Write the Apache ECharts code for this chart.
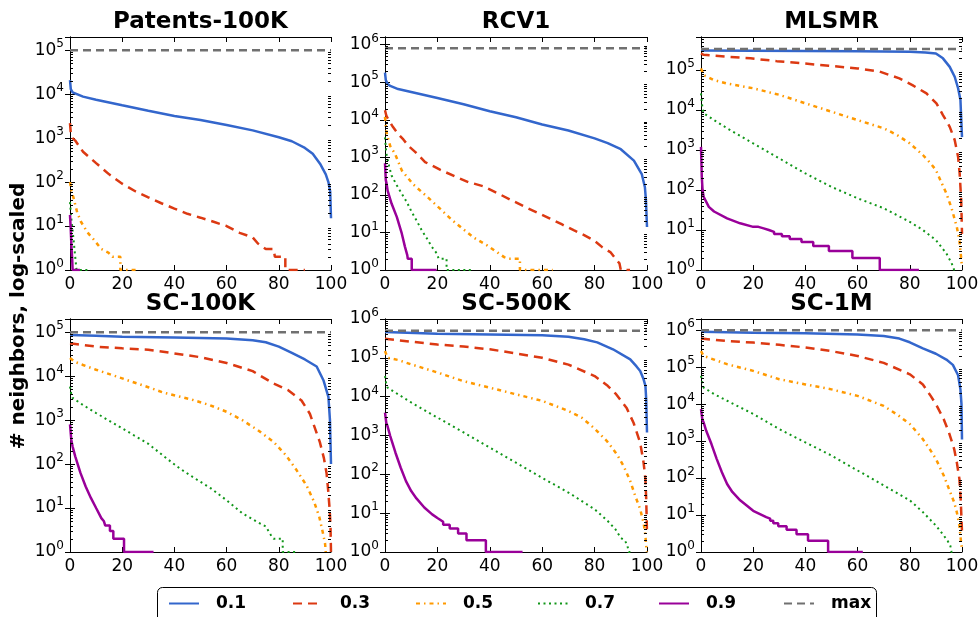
<!DOCTYPE html>
<html>
<head>
<meta charset="utf-8">
<script src="https://cdn.jsdelivr.net/npm/echarts@6/dist/echarts.min.js"></script>
<style>html,body{margin:0;padding:0;background:#fff}#c{width:979px;height:617px}</style>
</head>
<body>
<div id="c"></div>
<script>
// ---------------- DATA ----------------
const panelNames = ['Patents-100K', 'RCV1', 'MLSMR', 'SC-100K', 'SC-500K', 'SC-1M'];
const seriesNames = ['0.1', '0.3', '0.5', '0.7', '0.9', 'max'];
const xTicks = [0, 20, 40, 60, 80, 100];
const maxNeighbors = [1e5, 8.04e5, 3.35e5, 1e5, 5e5, 1e6];

// Patents-100K
const pat01 = [[0,2.1e4],[0.3,1.3e4],[1,1.1e4],[5,8.8e3],[10,7.5e3],[20,5.6e3],[30,4.2e3],[40,3.2e3],[50,2.6e3],[60,2e3],[70,1.5e3],[80,1.05e3],[85,850],[90,600],[93,440],[96,250],[98,150],[99,100],[99.7,60],[100,15]];
const pat03 = [[0,2.2e3],[0.3,1.3e3],[1,1e3],[2,880],[5,490],[10,270],[15,150],[20,92],[25,62],[30,45],[35,33],[40,25],[45,19],[50,15.5],[55,12.5],[60,10],[65,7],[70,5.5],[72,4],[75,3],[78,3],[78.5,2],[82.5,2],[82.5,1],[90,1]];
const pat05 = [[0,100],[0.5,65],[1.3,45],[2.8,20],[4.2,12.5],[5.7,9],[7,6.8],[9,5],[12,3],[14.7,2.5],[16.3,2],[19.3,2],[19.3,1],[25.5,1]];
const pat07 = [[0,35],[0.5,15],[1,8],[1.5,4],[2,2],[2.5,2],[2.5,1],[8,1]];
const pat09 = [[0,18],[0.3,8],[0.6,3],[0.8,2],[1,1],[3.8,1]];

// RCV1
const rcv01 = [[0,1.8e5],[0.3,1.15e5],[1,9e4],[2,8e4],[5,6.6e4],[10,5.5e4],[20,3.8e4],[30,2.6e4],[40,1.7e4],[50,1.17e4],[60,7.5e3],[70,5.2e3],[80,3.2e3],[85,2.4e3],[90,1.65e3],[95,820],[98,360],[99.2,160],[99.6,72],[100,14]];
const rcv03 = [[0,1.8e4],[0.5,1.3e4],[1,1.1e4],[3,6.5e3],[5,4.2e3],[7,3e3],[9,2e3],[11.5,1.4e3],[15.3,750],[21,470],[26.7,310],[31.8,220],[37.5,170],[43.3,108],[48.3,72],[53.4,48],[58.5,33],[63,23.5],[67.4,16.6],[72,11.5],[76,8.5],[80,6],[83,4],[86,3],[88,2],[89.5,1.5],[90,1],[93.5,1]];
const rcv05 = [[0,1.2e4],[0.5,5e3],[1,3.5e3],[2,2e3],[3.8,1.25e3],[6.4,450],[10.8,190],[15.9,92],[21,43],[25.4,22],[30,12],[34,7.2],[38.8,4.6],[43,2.9],[45.5,2.2],[47,2],[51.5,2],[51.5,1],[64,1]];
const rcv07 = [[0,3.4e3],[0.5,1.3e3],[1.3,680],[2.5,330],[4.5,180],[6.4,108],[8.3,65],[10.2,35],[12,21],[14,11.5],[16,6.9],[17.8,4.2],[19.7,2.8],[20.5,2],[23.5,2],[23.5,1],[34,1]];
const rcv09 = [[0,700],[0.3,250],[0.6,200],[1,130],[2.5,59],[4.5,26],[6.4,9.4],[7.6,4.2],[8.5,2.5],[8.7,2],[10.2,2],[10.2,1],[19.7,1]];

// MLSMR
const mls01 = [[0,3.1e5],[20,3.05e5],[40,3e5],[60,2.95e5],[80,2.85e5],[86,2.75e5],[90,2.6e5],[92.7,1.96e5],[95.3,1.2e5],[97.2,6.8e4],[98.5,3.5e4],[99.4,1.8e4],[100,2.1e3]];
const mls03 = [[0,2.6e5],[1,2.4e5],[10,2.15e5],[19,1.96e5],[29,1.67e5],[39,1.47e5],[49,1.28e5],[60,1.1e5],[68.5,9.1e4],[76,6.2e4],[81,4.2e4],[86.4,2.6e4],[90.2,1.47e4],[92.7,7.5e3],[95.3,3.8e3],[97.2,1.78e3],[98.5,680],[99.1,260],[99.7,56],[100,8]];
const mls05 = [[0,1.1e5],[1,7.5e4],[5,5.6e4],[10,4.6e4],[20,3.5e4],[30,2.4e4],[40,1.47e4],[50,9.1e3],[60,5.6e3],[70,3.5e3],[75,2.4e3],[80,1.47e3],[85,750],[88,460],[90,316],[92,160],[94,83],[96,35],[98,12],[99,5.6],[100,1.2]];
const mls07 = [[0,2.6e4],[0.5,1.2e4],[1,8.3e3],[5,5.6e3],[10,3.5e3],[20,1.47e3],[30,620],[40,260],[50,120],[60,62],[70,35],[80,16],[85,10],[90,5.6],[94,2.6],[96,1.5],[97,1],[97.5,1]];
const mls09 = [[0,1.2e3],[0.3,215],[0.6,100],[1,68],[3,38],[5,29],[10,19.5],[15,14.7],[20,12],[22,12],[22,11],[24,11],[24,10],[26,10],[26,9],[28,9],[28,8],[31,8],[31,7],[34,7],[34,6],[38.5,6],[38.5,5],[43,5],[43,4],[49,4],[49,3],[58,3],[58,2],[68.5,2],[68.5,1],[83.5,1]];

// SC-100K
const sc100k01 = [[0,8.7e4],[10,8.3e4],[20,7.9e4],[40,7.6e4],[60,7.2e4],[70,6.6e4],[75,5.9e4],[80,4.7e4],[85,3.4e4],[90,2.4e4],[94.5,1.66e4],[97.1,8.1e3],[99,3.4e3],[99.6,1e3],[100,100]];
const sc100k03 = [[0,5.6e4],[10,4.7e4],[20,4.3e4],[30,4e4],[40,3.3e4],[50,2.7e4],[60,2e4],[70,1.3e4],[78,6.8e3],[83.6,4.8e3],[88.7,2.8e3],[91.9,1.4e3],[95.7,320],[97.3,135],[98.3,62],[98.9,26],[99.5,9],[99.8,4],[100,1]];
const sc100k05 = [[0,2.6e4],[2,2.1e4],[5,1.8e4],[10,1.4e4],[20,8.9e3],[30,5.6e3],[36,4.2e3],[46.5,2.95e3],[53.5,2.2e3],[60,1.55e3],[66,1e3],[72,590],[78,320],[82.7,160],[86.8,73],[90.7,32],[93.5,14],[95.5,6.3],[96.8,2.9],[97.7,1.6],[98,1]];
const sc100k07 = [[0,5.8e3],[0.5,3.8e3],[1,3.2e3],[5,2.2e3],[10,1.45e3],[20,650],[30,290],[36,150],[42,80],[47,51],[54,28],[60,15],[66,7.6],[71.5,4.9],[75,3.8],[77,2.4],[78,2],[81.5,2],[81.5,1],[87,1]];
const sc100k09 = [[0,800],[0.5,355],[1,250],[2,150],[4,63],[6,31],[8,17],[10,10],[12,5.9],[13,5],[13.5,5],[13.5,4],[15.3,4],[15.3,3],[16.6,3],[16.6,2],[20.7,2],[20.7,1],[32,1]];

// SC-500K
const sc500k01 = [[0,4.6e5],[20,4.2e5],[40,4e5],[60,3.8e5],[70,3.5e5],[76,3e5],[81,2.5e5],[87,1.66e5],[93.6,9.1e4],[96,6e4],[97.4,4.6e4],[98.7,2.8e4],[99.4,1.9e4],[99.7,8.5e3],[100,1.2e3]];
const sc500k03 = [[0,3.1e5],[10,2.6e5],[20,2.2e5],[30,1.95e5],[40,1.66e5],[50,1.3e5],[60,1e5],[70,6.7e4],[80,3.4e4],[85,1.9e4],[88,1.2e4],[90,8e3],[92.3,5e3],[94.9,2.1e3],[97.4,650],[98.7,200],[99.4,74],[99.7,23],[100,3]];
const sc500k05 = [[0,1.5e5],[1,1e5],[5,8.8e4],[10,6.8e4],[20,4.2e4],[30,2.5e4],[40,1.7e4],[50,1.15e4],[60,7.8e3],[70,4.3e3],[75,2.9e3],[79.6,1.6e3],[84.7,720],[88.5,330],[91.1,163],[93.6,67],[95.5,28],[97.4,12.6],[98.7,5.7],[99.4,2.6],[99.7,1.4],[100,1]];
const sc500k07 = [[0,3.4e4],[0.5,2.1e4],[1,1.7e4],[5,1.15e4],[10,7.1e3],[20,2.9e3],[30,1.2e3],[40,490],[50,200],[60,81],[70,34],[80,12.6],[85,6.3],[88,3.8],[90,2.3],[91.5,2],[92.5,1.5],[93,1],[94,1]];
const sc500k09 = [[0,3.9e3],[0.5,2.1e3],[1,1.7e3],[2,970],[4,360],[6,148],[8,67],[10,37],[12,24],[15,14],[18,9.3],[20,7.5],[22.2,6],[22.2,5],[24.7,5],[24.7,4],[27.9,4],[27.9,3],[31.1,3],[31.1,2],[38.5,2],[38.5,1],[52.5,1]];

// SC-1M
const sc1m01 = [[0,9.1e5],[20,8.5e5],[40,8.2e5],[60,7.6e5],[70,6.9e5],[76,5.9e5],[80,4.7e5],[85,3.2e5],[90,2.3e5],[94,1.6e5],[96.5,1.15e5],[98.5,6e4],[99.4,2.5e4],[99.8,1e4],[100,1.1e3]];
const sc1m03 = [[0,5.9e5],[10,5.1e5],[20,4.6e5],[30,4e5],[40,3.4e5],[50,2.7e5],[60,2e5],[70,1.3e5],[80,6.4e4],[85,3.4e4],[88,1.67e4],[90,1e4],[93,3.9e3],[95,1.7e3],[97,610],[98,270],[99,95],[99.5,27],[100,3.5]];
const sc1m05 = [[0,2.7e5],[1,2e5],[5,1.6e5],[10,1.2e5],[20,7.9e4],[30,4.7e4],[40,3.4e4],[50,2.5e4],[60,1.67e4],[70,8.9e3],[75,5.3e3],[80,2.9e3],[85,1.13e3],[88,550],[90,330],[93,117],[95,51],[97,22],[98,12],[99,5.2],[99.5,2.3],[100,1.2]];
const sc1m07 = [[0,5.8e4],[0.5,3.8e4],[1,2.8e4],[5,1.86e4],[10,1.23e4],[20,5.4e3],[30,2.1e3],[40,920],[50,405],[60,160],[70,63],[80,25],[85,12],[90,5.2],[93,2.8],[94.5,2],[95.5,1.5],[96,1],[96.5,1]];
const sc1m09 = [[0,7.3e3],[0.5,3.9e3],[1,3.2e3],[2,1.9e3],[4,830],[6,330],[8,144],[10,69],[12,42],[15,25],[20,13],[25,8.8],[26.5,8],[26.5,7],[27.7,7],[27.7,6],[29.6,6],[29.6,5],[32.8,5],[32.8,4],[36.6,4],[36.6,3],[41,3],[41,2],[48.7,2],[48.7,1],[62,1]];

const panelSeries = [
  [pat01, pat03, pat05, pat07, pat09],
  [rcv01, rcv03, rcv05, rcv07, rcv09],
  [mls01, mls03, mls05, mls07, mls09],
  [sc100k01, sc100k03, sc100k05, sc100k07, sc100k09],
  [sc500k01, sc500k03, sc500k05, sc500k07, sc500k09],
  [sc1m01, sc1m03, sc1m05, sc1m07, sc1m09]
];

// ---------------- STYLE / LAYOUT ----------------
const FONT = 'DejaVu Sans';
const COLORS = ['#3366cc', '#dc3912', '#ff9900', '#109618', '#990099', '#707070'];
const DASHES = ['solid', [9, 6], [4, 4, 1.5, 4], [2, 3.5], 'solid', [8, 5]];
const WIDTHS = [2.5, 2.5, 2.5, 2, 2.5, 2.5];
const COL_LEFT = [70, 385, 701];
const COL_WIDTH = [261, 262, 261];
const ROW_TOP = [37, 319];
const GRID_H = 233;
const TITLE_Y = [22, 304];
const LEGEND_X = [168, 292, 415, 537, 658, 783];
const MAJOR_TICK = 5, MINOR_TICK = 3;

const chart = echarts.init(document.getElementById('c'), null, { renderer: 'canvas' });

const grids = [], xAxes = [], yAxes = [], series = [], graphics = [];

panelNames.forEach((name, i) => {
  const col = i % 3, row = Math.floor(i / 3);
  const left = COL_LEFT[col], width = COL_WIDTH[col], top = ROW_TOP[row];
  grids.push({ left, top, width, height: GRID_H, containLabel: false, outerBoundsMode: 'none' });

  const xMin = xTicks[0], xMax = xTicks[xTicks.length - 1];
  const xBase = {
    gridIndex: i, type: 'value', min: xMin, max: xMax, interval: xTicks[1] - xTicks[0],
    axisLine: { show: true, lineStyle: { color: '#000', width: 1 } },
    axisTick: { show: true, inside: true, length: MAJOR_TICK, lineStyle: { color: '#000', width: 1 } },
    splitLine: { show: false }
  };
  xAxes.push(Object.assign({}, xBase, {
    position: 'bottom',
    axisLabel: { show: true, fontSize: 17, fontFamily: FONT, color: '#000', margin: 6 }
  }));
  xAxes.push(Object.assign({}, xBase, { position: 'top', axisLabel: { show: false } }));

  const yMax = 2 * maxNeighbors[i];
  const majorBase = {
    gridIndex: i, type: 'log', logBase: 10, min: 1, max: yMax,
    axisLine: { show: true, lineStyle: { color: '#000', width: 1 } },
    axisTick: { show: true, inside: true, length: MAJOR_TICK, lineStyle: { color: '#000', width: 1 } },
    splitLine: { show: false }, minorTick: { show: false }, minorSplitLine: { show: false }
  };
  yAxes.push(Object.assign({}, majorBase, {
    position: 'left',
    axisLabel: {
      show: true, margin: 6,
      formatter: function (v) {
        const e = Math.log10(v);
        if (Math.abs(e - Math.round(e)) > 1e-6) return '';
        return '{b|10}{s|' + Math.round(e) + '}';
      },
      rich: {
        b: { fontSize: 17, fontFamily: FONT, color: '#000', lineHeight: 24, verticalAlign: 'middle' },
        s: { fontSize: 12, fontFamily: FONT, color: '#000', lineHeight: 14, verticalAlign: 'top' }
      }
    }
  }));
  yAxes.push(Object.assign({}, majorBase, { position: 'right', axisLabel: { show: false } }));

  // log-axis minor ticks (2..9 x 10^e) on both vertical edges
  const minorVals = [];
  for (let e = 0; Math.pow(10, e) <= yMax; e++) {
    for (let k = 2; k <= 9; k++) {
      const v = k * Math.pow(10, e);
      if (v <= yMax * 1.0001) minorVals.push([xMin, v]);
    }
  }
  series.push({
    type: 'custom', name: 'minor-ticks-' + i, xAxisIndex: 2 * i, yAxisIndex: 2 * i,
    data: minorVals, silent: true, animation: false, z: 10, clip: false,
    renderItem: function (params, api) {
      const v = api.value(1);
      const pl = api.coord([xMin, v]);
      const pr = api.coord([xMax, v]);
      const y = Math.round(pl[1]) + 0.5;
      return {
        type: 'group', children: [
          { type: 'line', shape: { x1: pl[0], y1: y, x2: pl[0] + MINOR_TICK, y2: y }, style: { stroke: '#000', lineWidth: 1 } },
          { type: 'line', shape: { x1: pr[0] - MINOR_TICK, y1: y, x2: pr[0], y2: y }, style: { stroke: '#000', lineWidth: 1 } }
        ]
      };
    }
  });

  panelSeries[i].forEach((data, s) => {
    series.push({
      type: 'line', name: seriesNames[s], xAxisIndex: 2 * i, yAxisIndex: 2 * i,
      data: data, symbol: 'none', showSymbol: false, animation: false,
      lineStyle: { color: COLORS[s], width: WIDTHS[s], type: DASHES[s], cap: 'butt' },
      itemStyle: { color: COLORS[s], opacity: 0 }, z: 2 + s
    });
  });
  const m = maxNeighbors[i];
  series.push({
    type: 'line', name: seriesNames[5], xAxisIndex: 2 * i, yAxisIndex: 2 * i,
    data: [[xMin, m], [xMax, m]],
    symbol: 'none', showSymbol: false, animation: false,
    lineStyle: { color: COLORS[5], width: WIDTHS[5], type: DASHES[5], cap: 'butt' },
    itemStyle: { color: COLORS[5], opacity: 0 }, z: 8
  });

  graphics.push({
    type: 'text', x: left + width / 2, y: TITLE_Y[row],
    style: { text: name, font: 'bold 23px "' + FONT + '"', fill: '#000', textAlign: 'center', textVerticalAlign: 'middle' }
  });
});

graphics.push({
  type: 'text', x: 19, y: 316, rotation: Math.PI / 2,
  style: { text: '# neighbors, log-scaled', font: 'bold 20px "' + FONT + '"', fill: '#000', textAlign: 'center', textVerticalAlign: 'middle' }
});
graphics.push({
  type: 'rect', z: -10,
  shape: { x: 157.5, y: 587.5, width: 719, height: 40, r: 5 },
  style: { fill: '#fff', stroke: '#000', lineWidth: 1 }
});

const legends = seriesNames.map((n, k) => ({
  left: LEGEND_X[k], top: 595, padding: 0, data: [n], selectedMode: false,
  itemWidth: 30, itemHeight: 14, itemStyle: { opacity: 0 },
  textStyle: { fontSize: 17, fontWeight: 'bold', fontFamily: FONT, color: '#000', padding: [0, 0, 0, 12] }
}));

chart.setOption({
  animation: false,
  backgroundColor: '#fff',
  grid: grids, xAxis: xAxes, yAxis: yAxes, series: series,
  legend: legends,
  graphic: { elements: graphics }
});
</script>
</body>
</html>
